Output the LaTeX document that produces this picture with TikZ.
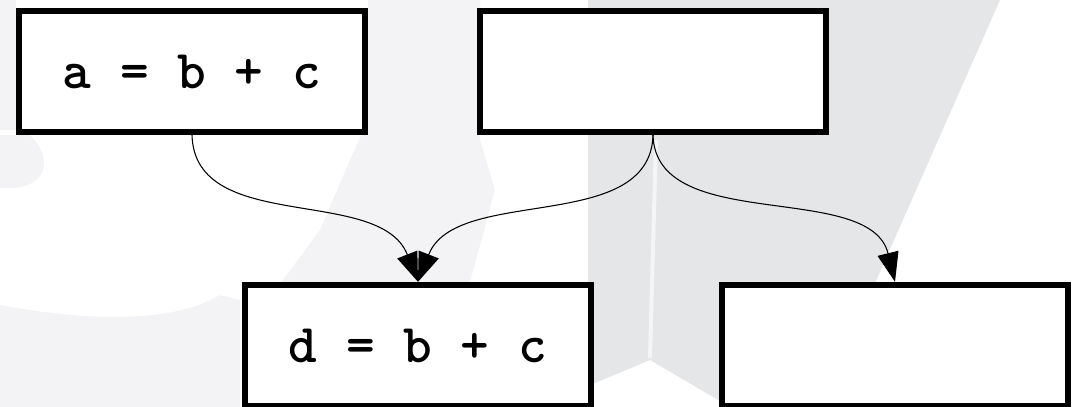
\documentclass[tikz,border=0pt]{standalone}
\usetikzlibrary{arrows.meta}

\definecolor{wmdark}{RGB}{229,230,232}
\definecolor{wmlight}{RGB}{243,243,245}

\tikzset{
  stmt/.style={draw, line width=4.8pt, fill=white, inner sep=0pt,
    minimum width=259.5pt, minimum height=90.75pt,
    font=\ttfamily\bfseries\fontsize{41}{45}\selectfont},
  flow/.style={line width=0.8pt, -{Triangle[length=22pt,width=16pt]}}
}

\begin{document}
\begin{tikzpicture}[x=0.75pt,y=0.75pt,yscale=-1,xscale=1]
\useasboundingbox (0,0) rectangle (1082,407);

%Background shading
\fill [wmlight] (368,0) -- (480,0) -- (480,140) -- (495,190) -- (470,282) -- (280,284) -- (320,230) -- (350,160) -- (368,120) -- cycle;
\fill [wmlight] (0,407) -- (0,305) .. controls (80,320) and (170,325) .. (220,295) -- (240,300) -- (240,407) -- cycle;
\fill [wmlight] (0,0) -- (16,0) -- (16,130) -- (0,130) -- cycle;
\fill [wmlight] (0,135) -- (30,135) .. controls (55,160) and (45,185) .. (15,188) -- (0,188) -- cycle;
\fill [wmdark] (588,0) -- (1000,0) -- (872,290) -- (730,407) -- (650,360) -- (588,386) -- cycle;
\draw [white, line width=3, opacity=0.6] (656,140) -- (650,358);

% Nodes
\node [stmt] (a) at (192,71.5) {a = b + c};
\node [stmt] (b) at (653,71.5) {};
\node [stmt] (d) at (418,345.5) {d = b + c};
\node [stmt] (e) at (895,345.5) {};

%Curve Lines
\draw [flow] (a.south) .. controls (195,235) and (380,185) .. (d.north);
\draw [flow] (b.south) .. controls (650,235) and (456,185) .. (d.north);
\draw [flow] (b.south) .. controls (656,235) and (870,180) .. (e.north);

\end{tikzpicture}
\end{document}
